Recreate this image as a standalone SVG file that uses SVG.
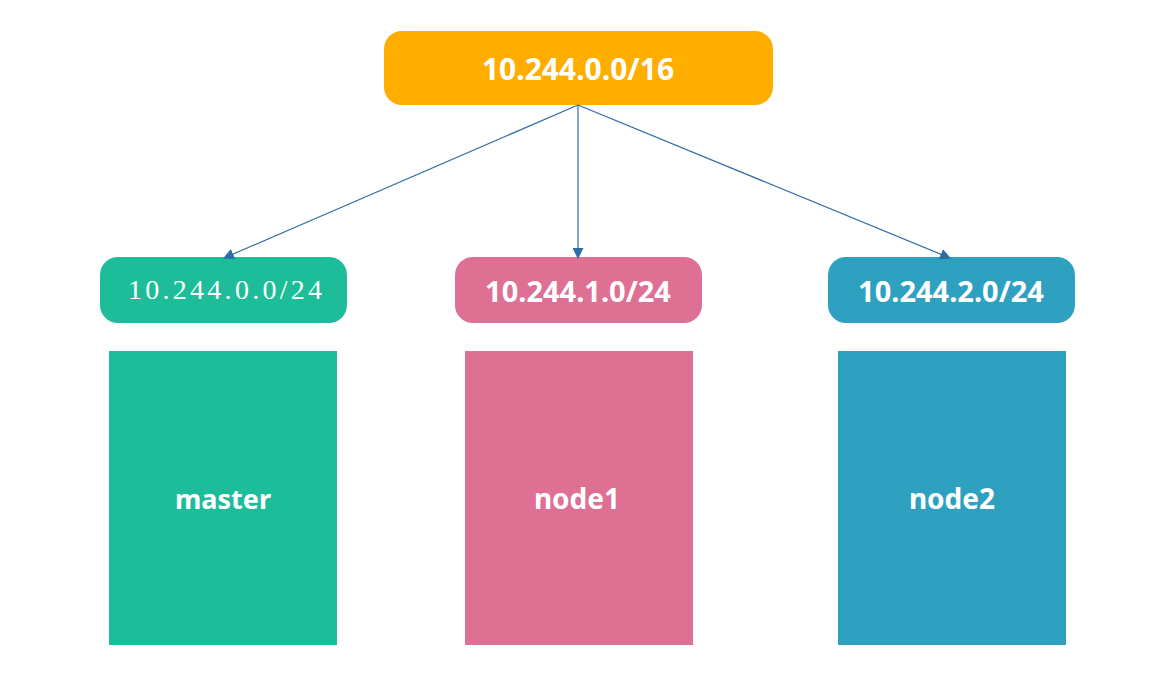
<svg xmlns="http://www.w3.org/2000/svg" width="1158" height="684" viewBox="0 0 1158 684">
<style>
.lbl{font-family:"Noto Sans","Open Sans","Liberation Sans",sans-serif;font-weight:bold;fill:#fff;text-anchor:middle}
.ser{font-family:"Liberation Serif","Noto Serif CJK SC",serif;fill:#fff;text-anchor:middle}
.edge{stroke:#2e6ea6;stroke-width:1.2;fill:none}
</style>
<defs>
<marker id="ah" viewBox="0 0 10 10" refX="9" refY="5" markerWidth="11" markerHeight="11" markerUnits="userSpaceOnUse" orient="auto">
<path d="M0,0 L10,5 L0,10 z" fill="#2e6ea6"/>
</marker>
</defs>
<rect width="1158" height="684" fill="#fff"/>
<g id="root">
<rect x="384" y="31" width="389" height="74" rx="18" fill="#ffae00"/>
<text class="lbl" x="578" y="80" font-size="30">10.244.0.0/16</text>
</g>
<g id="master-cidr">
<rect x="100" y="257" width="247" height="66" rx="18" fill="#1dbd9a"/>
<text class="ser" x="225" y="299" font-size="28" textLength="194" lengthAdjust="spacing">10.244.0.0/24</text>
</g>
<g id="node1-cidr">
<rect x="455" y="257" width="247" height="66" rx="18" fill="#dd7093"/>
<text class="lbl" x="578" y="302" font-size="29">10.244.1.0/24</text>
</g>
<g id="node2-cidr">
<rect x="828" y="257" width="247" height="66" rx="18" fill="#2da1bf"/>
<text class="lbl" x="951" y="302" font-size="29">10.244.2.0/24</text>
</g>
<g id="master">
<rect x="109" y="351" width="228" height="294" fill="#1dbd9a"/>
<text class="lbl" x="223" y="509" font-size="27">master</text>
</g>
<g id="node1">
<rect x="465" y="351" width="228" height="294" fill="#dd7093"/>
<text class="lbl" x="577" y="509" font-size="28">node1</text>
</g>
<g id="node2">
<rect x="838" y="351" width="228" height="294" fill="#2da1bf"/>
<text class="lbl" x="952" y="509" font-size="28">node2</text>
</g>
<g id="connectors">
<line class="edge" x1="578" y1="105" x2="224" y2="258" marker-end="url(#ah)"/>
<line class="edge" x1="578" y1="105" x2="578" y2="258" marker-end="url(#ah)"/>
<line class="edge" x1="578" y1="105" x2="950" y2="258" marker-end="url(#ah)"/>
</g>
</svg>
